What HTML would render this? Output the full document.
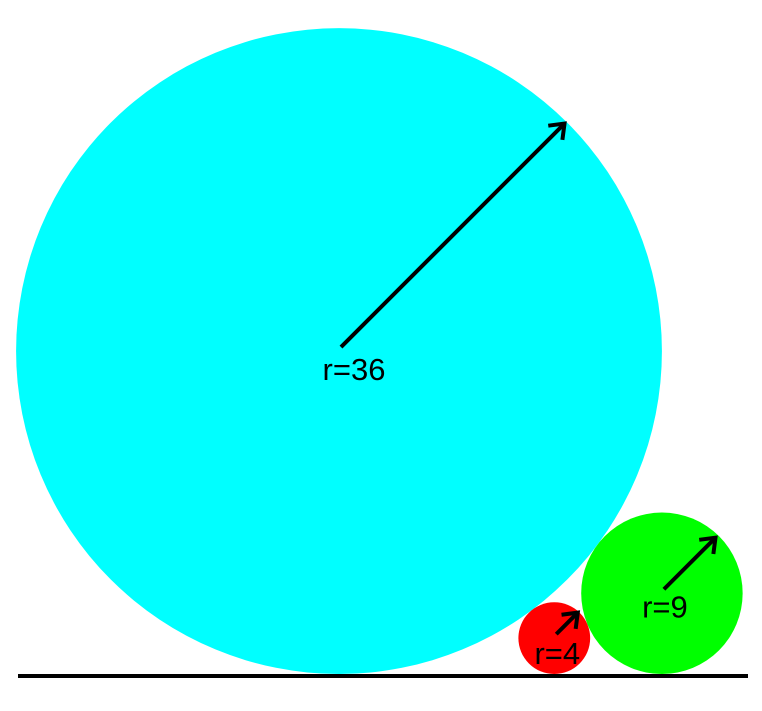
<!DOCTYPE html>
<html><head><meta charset="utf-8"><style>
html,body{margin:0;padding:0;background:#fff;}
svg{display:block;}
text{font-family:"Liberation Sans",sans-serif;font-size:31px;fill:#000;}
</style></head><body>
<svg id="chart" width="762" height="711" viewBox="0 0 762 711">
<defs><marker id="ah" markerWidth="20" markerHeight="24" refX="14" refY="12" orient="auto" markerUnits="userSpaceOnUse" viewBox="0 0 20 24"><path d="M2,2 L15,12 L2,22" fill="none" stroke="#000" stroke-width="4"/></marker></defs>
</svg>
<script>
const radii = [36, 4, 9];
const labels = ['r=36', 'r=4', 'r=9'];
const colors = ['#00ffff', '#ff0000', '#00ff00'];
const names = ['big-circle', 'small-circle', 'medium-circle'];
const arrowFrac = [0.69, 0.58, 0.63];
const labelDy = [29, 26, 24];
const svg = document.getElementById('chart');
const NS = 'http://www.w3.org/2000/svg';
const scale = 8.97, x0 = 339, baseY = 674;
function cx(i){ return i===0 ? x0 : x0 + 2*Math.sqrt(radii[0]*radii[i])*scale; }
radii.forEach((r,i)=>{
  const R = r*scale, x = cx(i), y = baseY - R;
  const c = document.createElementNS(NS,'circle');
  c.setAttribute('cx',x); c.setAttribute('cy',y); c.setAttribute('r',R); c.setAttribute('fill',colors[i]);
  
  
  svg.appendChild(c);
});
radii.forEach((r,i)=>{
  const R = r*scale, x = cx(i), y = baseY - R;
  const L = arrowFrac[i]*R;
  const ln = document.createElementNS(NS,'line');
  ln.setAttribute('x1',x+2); ln.setAttribute('y1',y-4);
  ln.setAttribute('x2',x+2+L); ln.setAttribute('y2',y-4-L);
  ln.setAttribute('stroke','#000'); ln.setAttribute('stroke-width',4);
  ln.setAttribute('marker-end','url(#ah)');
  
  
  svg.appendChild(ln);
  const t = document.createElementNS(NS,'text');
  t.setAttribute('x', x + (i===0?15:3)); t.setAttribute('y', y+labelDy[i]);
  t.setAttribute('text-anchor','middle');
  t.textContent = labels[i];
  
  
  svg.appendChild(t);
});
const g = document.createElementNS(NS,'line');
g.setAttribute('x1',18); g.setAttribute('x2',748); g.setAttribute('y1',676); g.setAttribute('y2',676);
g.setAttribute('stroke','#000'); g.setAttribute('stroke-width',4);


svg.appendChild(g);
</script>
</body></html>
